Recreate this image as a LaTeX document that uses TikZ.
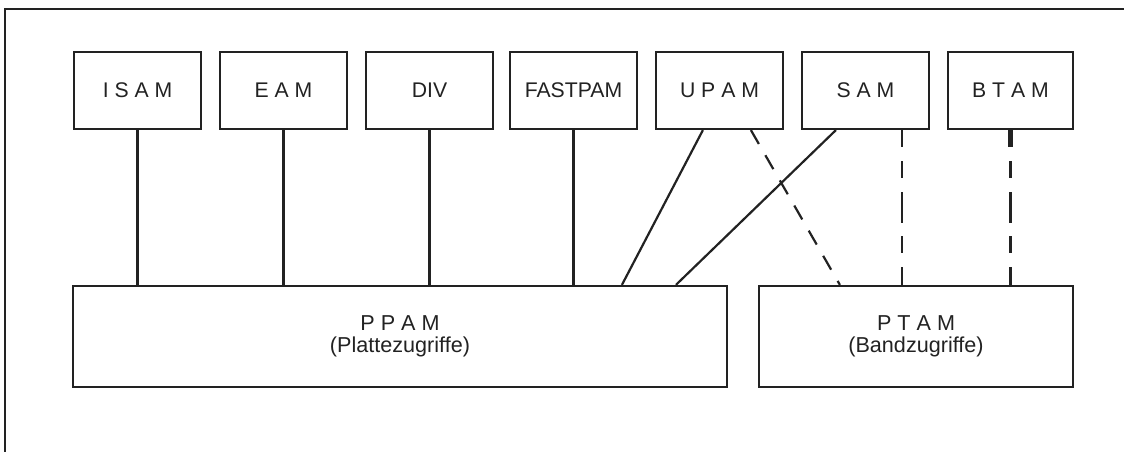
\documentclass[tikz,border=0pt]{standalone}
\usepackage{fontspec}
\setmainfont{Liberation Sans}
\usetikzlibrary{calc}
\definecolor{ink}{HTML}{222222}
\begin{document}
\begin{tikzpicture}[x=0.5pt,y=-0.5pt,
  line width=1.1pt, draw=ink,
  topbox/.style={draw=ink, line width=1.1pt, minimum width=63.5pt, minimum height=38.5pt, inner sep=0pt, font=\fontsize{10.6}{12}\selectfont, text=ink},
  basebox/.style={draw=ink, line width=1.1pt, minimum height=50.5pt, inner sep=0pt, align=center, font=\fontsize{10.8}{11}\selectfont, text=ink},
  link/.style={draw=ink, line width=1.1pt},
  dashlink/.style={draw=ink, line width=1.1pt, dash pattern=on 8.5pt off 7pt on 8.5pt off 7pt on 15.5pt off 6.5pt on 8.5pt off 7pt on 9pt off 20pt},
  diaglink/.style={draw=ink, line width=1.1pt, dash pattern=on 8pt off 6.5pt}]
\useasboundingbox (0,0) rectangle (1124,452);
\draw[ink, line width=1.2pt] (1124,9) -- (5,9) -- (5,452);

\node[topbox] (isam) at (137.5,90.5) {\raisebox{-1pt}{I S A M}};
\node[topbox] (eam) at (283.5,90.5) {\raisebox{-1pt}{E A M}};
\node[topbox] (div) at (429.5,90.5) {\raisebox{-1pt}{DIV}};
\node[topbox] (fastpam) at (573.5,90.5) {\raisebox{-1pt}{FASTPAM}};
\node[topbox] (upam) at (719.5,90.5) {\raisebox{-1pt}{U P A M}};
\node[topbox] (sam) at (865.5,90.5) {\raisebox{-1pt}{S A M}};
\node[topbox, minimum width=62.5pt] (btam) at (1010.5,90.5) {\raisebox{-1pt}{B T A M}};

\node[basebox, minimum width=327pt] (ppam) at (400,336.5) {P P A M\\(Plattezugriffe)};
\node[basebox, minimum width=157pt] (ptam) at (916,336.5) {P T A M\\(Bandzugriffe)};

\draw[link] (isam.south) -- (isam.south |- ppam.north);
\draw[link] (eam.south) -- (eam.south |- ppam.north);
\draw[link] (div.south) -- (div.south |- ppam.north);
\draw[link] (fastpam.south) -- (fastpam.south |- ppam.north);

\coordinate (u1) at ($(upam.south west)+(48,0)$);
\coordinate (u2) at ($(upam.south west)+(96,0)$);
\coordinate (s1) at ($(sam.south west)+(35,0)$);
\coordinate (s2) at ($(sam.south west)+(101,0)$);
\coordinate (p1) at ($(ppam.north west)+(550,0)$);
\coordinate (p2) at ($(ppam.north west)+(604,0)$);
\coordinate (t1) at ($(ptam.north west)+(82,0)$);

\draw[link] (u1) -- (p1);
\draw[link] (s1) -- (p2);
\draw[diaglink] (u2) -- (t1);
\draw[dashlink] (s2) -- (s2 |- ptam.north);
\draw[dashlink] (btam.south) -- (btam.south |- ptam.north);
\draw[draw=ink, line width=2.2pt] (btam.south) -- ($(btam.south)+(0,17)$);
\end{tikzpicture}
\end{document}
